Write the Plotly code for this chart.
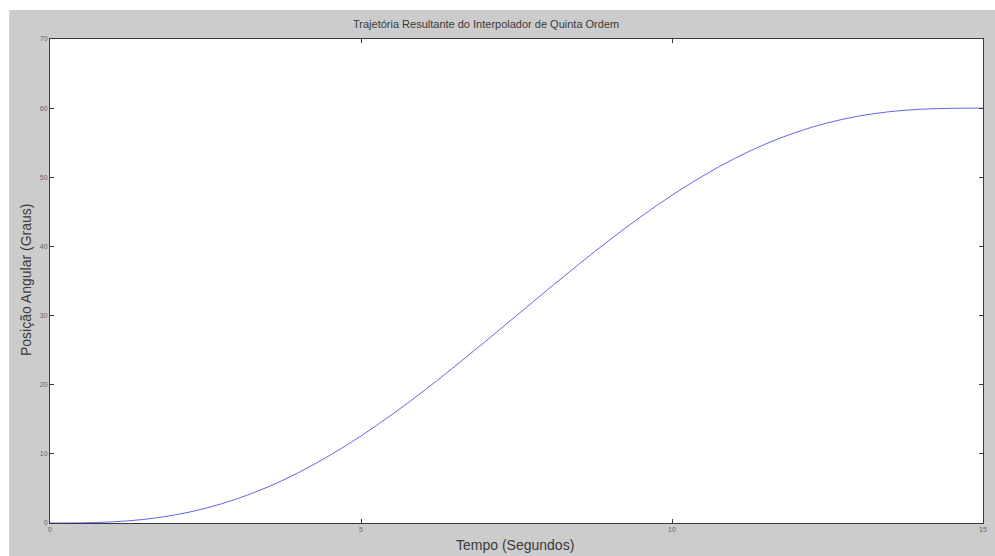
import plotly.graph_objects as go

# Trajetória angular (graus) amostrada a cada 0,5 s
tempo = [0.0, 0.5, 1.0, 1.5, 2.0, 2.5, 3.0, 3.5, 4.0, 4.5, 5.0, 5.5, 6.0, 6.5, 7.0, 7.5,
         8.0, 8.5, 9.0, 9.5, 10.0, 10.5, 11.0, 11.5, 12.0, 12.5, 13.0, 13.5, 14.0, 14.5, 15.0]
posicao = [0.0, 0.02, 0.16, 0.51, 1.15, 2.13, 3.48, 5.2, 7.31, 9.79, 12.59, 15.7, 19.05, 22.59, 26.26, 30.0,
           33.74, 37.41, 40.95, 44.3, 47.41, 50.21, 52.69, 54.8, 56.52, 57.87, 58.85, 59.49, 59.84, 59.98, 60.0]

x_ticks = [0, 5, 10, 15]
y_ticks = [0, 10, 20, 30, 40, 50, 60, 70]

W, H = 995, 556
L, R, T, B = 50, 8, 39, 33
pw, ph = W - L - R, H - T - B

def px(xp):
    return (xp - L) / pw

def py(yp):
    return (H - B - yp) / ph

fig = go.Figure()
fig.add_trace(go.Scatter(x=tempo, y=posicao, mode="lines", line_shape="spline",
                         line=dict(color="#6464f0", width=1), hoverinfo="skip"))

axis_common = dict(showgrid=False, zeroline=False, showline=True, mirror="ticks",
                   linecolor="#3a3a3a", linewidth=1, ticks="inside", ticklen=4,
                   tickcolor="#3a3a3a", tickfont=dict(family="Liberation Sans", size=7, color="#666"))

fig.update_layout(
    width=W, height=H,
    margin=dict(l=L, r=R, t=T, b=B),
    paper_bgcolor="white", plot_bgcolor="white",
    showlegend=False,
    xaxis=dict(range=[0, 15], tickvals=x_ticks, ticktext=[str(v) for v in x_ticks], **axis_common),
    yaxis=dict(range=[0, 70], tickvals=y_ticks, ticktext=[str(v) for v in y_ticks], **axis_common),
    shapes=[
        dict(type="rect", xref="paper", yref="paper", x0=px(9), x1=px(W + 5), y0=py(10), y1=py(H + 5),
             fillcolor="#cccccc", line=dict(width=0), layer="below"),
        dict(type="rect", xref="paper", yref="paper", x0=0, x1=1, y0=0, y1=1,
             fillcolor="white", line=dict(width=0), layer="below"),
    ],
    annotations=[
        dict(text="Trajetória Resultante do Interpolador de Quinta Ordem", xref="paper", yref="paper",
             x=px(488), y=py(24), xanchor="center", yanchor="middle", showarrow=False,
             font=dict(family="Liberation Sans", size=11, color="#3a3a3a")),
        dict(text="Tempo (Segundos)", xref="paper", yref="paper",
             x=px(517), y=py(545), xanchor="center", yanchor="middle", showarrow=False,
             font=dict(family="Liberation Sans", size=14, color="#3a3a3a")),
        dict(text="Posição Angular (Graus)", xref="paper", yref="paper", textangle=-90,
             x=px(26), y=py(280), xanchor="center", yanchor="middle", showarrow=False,
             font=dict(family="Liberation Sans", size=14, color="#3a3a3a")),
    ],
)

fig.write_html("out.html")
